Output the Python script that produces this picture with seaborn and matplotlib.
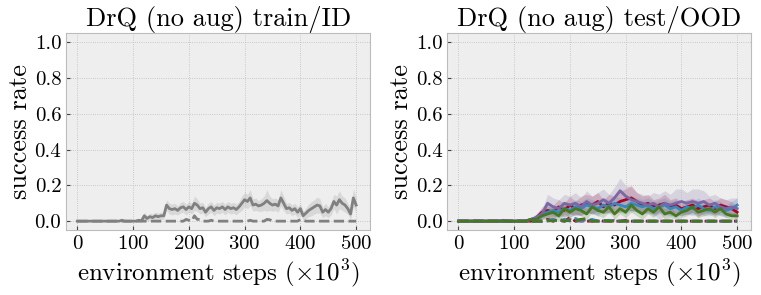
import matplotlib
matplotlib.use("Agg")
import matplotlib.pyplot as plt
import seaborn as sns
import numpy as np
import pandas as pd

# ---- data ----
steps_left = list(range(0, 505, 5))
train_mean = [
    0, 0, 0, 0, 0, 0, 0, 0, 0, 0,
    0, 0, 0, 0, 0, 0, 0.005, 0, 0, 0,
    0, 0, 0.005, 0.002, 0.03, 0.015, 0.025, 0.02, 0.03, 0.025,
    0.03, 0.03, 0.09, 0.07, 0.065, 0.07, 0.06, 0.075, 0.08, 0.065,
    0.08, 0.07, 0.1, 0.09, 0.07, 0.075, 0.05, 0.07, 0.08, 0.06,
    0.075, 0.07, 0.08, 0.065, 0.08, 0.07, 0.075, 0.065, 0.08, 0.1,
    0.12, 0.11, 0.13, 0.09, 0.095, 0.085, 0.09, 0.1, 0.115, 0.1,
    0.09, 0.095, 0.085, 0.13, 0.1, 0.07, 0.075, 0.06, 0.07, 0.05,
    0.07, 0.03, 0.045, 0.06, 0.07, 0.08, 0.09, 0.085, 0.05, 0.065,
    0.05, 0.07, 0.11, 0.09, 0.12, 0.1, 0.09, 0.07, 0.04, 0.13,
    0.09,
]
train_band = [
    0, 0, 0, 0, 0, 0, 0, 0, 0, 0,
    0, 0, 0, 0, 0, 0, 0.005, 0, 0, 0,
    0, 0, 0.01, 0.005, 0.02, 0.015, 0.02, 0.02, 0.02, 0.02,
    0.02, 0.02, 0.03, 0.03, 0.03, 0.03, 0.025, 0.03, 0.03, 0.03,
    0.03, 0.03, 0.04, 0.035, 0.03, 0.03, 0.025, 0.03, 0.03, 0.03,
    0.03, 0.03, 0.03, 0.03, 0.03, 0.03, 0.03, 0.03, 0.03, 0.04,
    0.04, 0.04, 0.045, 0.035, 0.035, 0.03, 0.035, 0.04, 0.06, 0.04,
    0.035, 0.035, 0.035, 0.045, 0.04, 0.03, 0.03, 0.03, 0.03, 0.03,
    0.03, 0.025, 0.03, 0.035, 0.04, 0.04, 0.045, 0.04, 0.03, 0.035,
    0.03, 0.035, 0.04, 0.05, 0.05, 0.04, 0.04, 0.03, 0.03, 0.05,
    0.04,
]
id_mean = [0.0] * 101
for i, v in {39: 0.01, 40: 0.005, 42: 0.03, 43: 0.01, 44: 0.01, 48: 0.005,
             62: 0.005, 68: 0.01, 69: 0.008, 80: 0.01, 81: 0.005}.items():
    id_mean[i] = v

steps_right = list(range(0, 510, 10))
ood_solid = {
    "red": [0, 0, 0, 0, 0, 0, 0, 0, 0, 0, 0, 0, 0, 0, 0.02, 0.05, 0.06, 0.05, 0.08, 0.06,
            0.09, 0.07, 0.09, 0.1, 0.09, 0.11, 0.08, 0.1, 0.09, 0.11, 0.12, 0.13, 0.11, 0.09,
            0.1, 0.08, 0.09, 0.1, 0.08, 0.09, 0.07, 0.08, 0.09, 0.07, 0.08, 0.09, 0.07, 0.09,
            0.08, 0.07, 0.05],
    "blue": [0, 0, 0, 0, 0, 0, 0, 0, 0, 0, 0, 0, 0, 0.01, 0.02, 0.04, 0.05, 0.06, 0.05, 0.07,
             0.06, 0.08, 0.07, 0.09, 0.08, 0.07, 0.09, 0.08, 0.1, 0.09, 0.08, 0.1, 0.09, 0.08,
             0.09, 0.07, 0.08, 0.09, 0.07, 0.08, 0.06, 0.08, 0.07, 0.09, 0.07, 0.06, 0.08, 0.07,
             0.06, 0.07, 0.09],
    "purple": [0, 0, 0, 0, 0, 0, 0, 0, 0.005, 0, 0, 0, 0, 0.01, 0.02, 0.04, 0.1, 0.08, 0.07, 0.1,
               0.09, 0.1, 0.08, 0.11, 0.09, 0.1, 0.12, 0.1, 0.13, 0.17, 0.14, 0.12, 0.11, 0.1,
               0.09, 0.1, 0.08, 0.1, 0.09, 0.1, 0.11, 0.1, 0.11, 0.1, 0.11, 0.09, 0.1, 0.08,
               0.07, 0.08, 0.07],
    "green": [0, 0, 0, 0, 0, 0, 0, 0, 0, 0, 0, 0, 0, 0.01, 0.01, 0.03, 0.04, 0.05, 0.03, 0.07,
              0.05, 0.07, 0.06, 0.04, 0.08, 0.06, 0.05, 0.08, 0.04, 0.07, 0.05, 0.09, 0.06, 0.04,
              0.07, 0.05, 0.08, 0.04, 0.05, 0.03, 0.05, 0.06, 0.08, 0.05, 0.06, 0.07, 0.05, 0.07,
              0.04, 0.03, 0.03],
}
ood_band = {
    "red": [0] * 13 + [0.01, 0.02, 0.03, 0.04, 0.04, 0.04, 0.04, 0.05, 0.04, 0.05,
                       0.05, 0.05, 0.05, 0.04, 0.05, 0.05, 0.06, 0.06, 0.07, 0.05,
                       0.05, 0.05, 0.04, 0.04, 0.05, 0.04, 0.04, 0.04, 0.04, 0.04,
                       0.04, 0.04, 0.04, 0.04, 0.04, 0.04, 0.04, 0.03],
    "blue": [0] * 13 + [0.01, 0.02, 0.03, 0.03, 0.03, 0.03, 0.04, 0.04, 0.04, 0.04,
                        0.04, 0.04, 0.04, 0.04, 0.04, 0.04, 0.04, 0.04, 0.04, 0.04,
                        0.04, 0.04, 0.04, 0.04, 0.04, 0.04, 0.04, 0.03, 0.04, 0.04,
                        0.04, 0.04, 0.03, 0.04, 0.04, 0.03, 0.04, 0.04],
    "purple": [0] * 13 + [0.01, 0.02, 0.03, 0.05, 0.05, 0.05, 0.05, 0.05, 0.06, 0.05,
                          0.06, 0.05, 0.06, 0.06, 0.05, 0.06, 0.07, 0.06, 0.07, 0.05,
                          0.05, 0.05, 0.06, 0.07, 0.07, 0.06, 0.08, 0.07, 0.06, 0.07,
                          0.08, 0.06, 0.05, 0.05, 0.05, 0.05, 0.05, 0.06],
    "green": [0] * 13 + [0.01, 0.01, 0.02, 0.03, 0.03, 0.03, 0.03, 0.03, 0.03, 0.03,
                         0.03, 0.03, 0.03, 0.03, 0.03, 0.03, 0.03, 0.03, 0.04, 0.03,
                         0.03, 0.03, 0.03, 0.03, 0.03, 0.03, 0.02, 0.03, 0.03, 0.03,
                         0.03, 0.03, 0.03, 0.03, 0.03, 0.02, 0.02, 0.02],
}
ood_dashed = {
    "red": [0] * 16 + [0.01, 0, 0.01, 0, 0.02, 0, 0.01, 0, 0, 0.005, 0, 0, 0, 0, 0.005, 0, 0,
                       0, 0, 0, 0, 0, 0, 0, 0, 0, 0, 0, 0, 0, 0, 0, 0, 0, 0],
    "blue": [0] * 16 + [0.005, 0.01, 0, 0.01, 0, 0.015, 0, 0, 0.01, 0, 0, 0.005, 0, 0, 0, 0, 0,
                        0, 0, 0, 0, 0, 0, 0, 0, 0, 0, 0, 0, 0, 0, 0, 0, 0, 0],
    "purple": [0] * 16 + [0, 0.005, 0, 0, 0.01, 0, 0, 0.01, 0, 0, 0, 0, 0.005, 0, 0, 0, 0,
                          0, 0, 0, 0, 0, 0, 0, 0, 0, 0, 0, 0, 0, 0, 0, 0, 0, 0],
    "green": [0] * 16 + [0.005, 0, 0.01, 0, 0.005, 0, 0.01, 0.015, 0, 0, 0.005, 0, 0, 0, 0, 0,
                         0, 0, 0, 0, 0, 0, 0, 0, 0, 0, 0, 0, 0, 0, 0, 0, 0, 0, 0],
}
palette = {"red": "#A60628", "blue": "#348ABD", "purple": "#7A68A6", "green": "#467821"}
titles = ["DrQ (no aug) train/ID", "DrQ (no aug) test/OOD"]

plt.style.use("bmh")
plt.rcParams.update({
    "font.family": "serif",
    "font.serif": ["cmr10", "DejaVu Serif"],
    "mathtext.fontset": "cm",
    "axes.formatter.use_mathtext": True,
    "axes.unicode_minus": False,
    "axes.facecolor": "#eeeeee",
    "axes.edgecolor": "#bcbcbc",
    "grid.color": "#bcbcbc",
    "grid.linestyle": ":",
    "grid.linewidth": 0.6,
})

fig, axes = plt.subplots(1, 2, figsize=(7.61, 2.95), dpi=100)
fig.subplots_adjust(left=0.087, right=0.987, top=0.887, bottom=0.22, wspace=0.254)


def draw(ax, x, mean, band, color, ls):
    df = pd.DataFrame({"x": x, "y": mean})
    m = np.array(mean)
    b = np.array(band)
    ax.fill_between(x, m - b, m + b, color=color, alpha=0.2, lw=0)
    sns.lineplot(data=df, x="x", y="y", ax=ax, color=color, lw=2, ls=ls, errorbar=None)


ax = axes[0]
draw(ax, steps_left, train_mean, train_band, "#808080", "-")
draw(ax, steps_left, id_mean, [0] * 101, "#808080", "--")

ax = axes[1]
for k in ["red", "blue", "purple", "green"]:
    draw(ax, steps_right, ood_solid[k], ood_band[k], palette[k], "-")
for k in ["red", "blue", "purple", "green"]:
    draw(ax, steps_right, ood_dashed[k], [0] * 51, palette[k], "--")

for ax, t in zip(axes, titles):
    ax.set_title(t, fontsize=19, pad=4)
    ax.set_xlim(-20, 525)
    ax.set_ylim(-0.05, 1.05)
    ax.set_xticks([0, 100, 200, 300, 400, 500])
    ax.set_yticks([0.0, 0.2, 0.4, 0.6, 0.8, 1.0])
    ax.set_yticklabels(["0.0", "0.2", "0.4", "0.6", "0.8", "1.0"])
    ax.tick_params(labelsize=15, length=3, color="#444444")
    ax.set_xlabel(r"environment steps ($\times 10^3$)", fontsize=18, labelpad=3)
    ax.set_ylabel("success rate", fontsize=19, labelpad=2)

fig.savefig("out.png", dpi=100)
